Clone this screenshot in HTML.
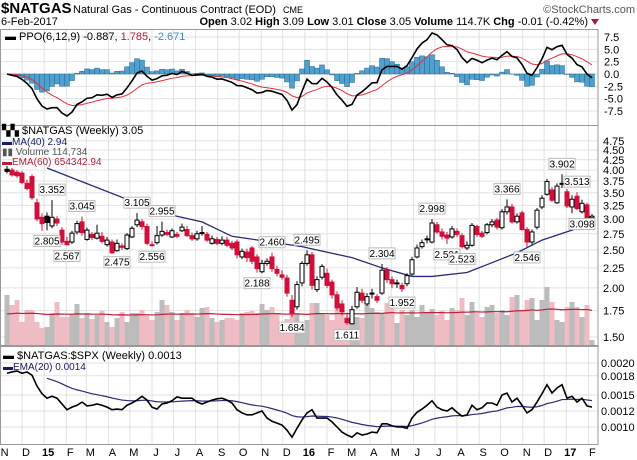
<!DOCTYPE html>
<html><head><meta charset="utf-8"><style>
body{margin:0;background:#fff;}
svg{display:block;font-family:"Liberation Sans",sans-serif;}
</style></head><body>
<svg id="chart" width="637" height="460" viewBox="0 0 637 460">
<defs>
<clipPath id="cp1"><rect x="0" y="29" width="598" height="96"/></clipPath>
<clipPath id="cp2"><rect x="0" y="125" width="598" height="220"/></clipPath>
<clipPath id="cp3"><rect x="0" y="346" width="598" height="98"/></clipPath>
</defs>
<g>
<text x="1" y="13" font-size="15" font-weight="bold">$NATGAS</text>
<text x="73" y="13" font-size="11">Natural Gas - Continuous Contract (EOD)</text>
<text x="283" y="13" font-size="9">CME</text>
<text x="635" y="13" font-size="11" fill="#555" text-anchor="end">©StockCharts.com</text>
<text x="1" y="25" font-size="11">6-Feb-2017</text>
<text x="588" y="25" font-size="11" text-anchor="end"><tspan font-weight="bold">Open</tspan> 3.02 <tspan font-weight="bold">High</tspan> 3.09 <tspan font-weight="bold">Low</tspan> 3.01 <tspan font-weight="bold">Close</tspan> 3.05 <tspan font-weight="bold">Volume</tspan> 114.7K <tspan font-weight="bold">Chg</tspan> -0.01 (-0.42%)</text>
<path d="M591 19 L599 19 L595 25 Z" fill="#a0184a"/>
</g>
<g id="grid"></g>
<g id="ppo" clip-path="url(#cp1)"></g>
<g id="price" clip-path="url(#cp2)"></g>
<g id="ratio" clip-path="url(#cp3)"></g>
<g id="axes"></g>
<g id="legends" font-size="11">
<text x="5" y="40"><tspan font-weight="bold">▬</tspan> PPO(6,12,9) -0.887, <tspan fill="#b0203a">1.785</tspan>, <tspan fill="#3b8fc0">-2.671</tspan></text>
<text x="2" y="134">▚▚ $NATGAS (Weekly) 3.05</text>
<text x="2" y="145" font-size="10" fill="#1a1a6a">▬MA(40) 2.94</text>
<text x="2" y="155" font-size="10" fill="#555">▮▮ Volume 114,734</text>
<text x="2" y="165" font-size="10" fill="#b0203a">▬EMA(60) 654342.94</text>
<text x="3" y="359"><tspan font-weight="bold">▬</tspan> $NATGAS:$SPX (Weekly) 0.0013</text>
<text x="3" y="370" font-size="10" fill="#1a1a6a">▬EMA(20) 0.0014</text>
</g>
</svg>
<script>
const opens=[4.02,4.00,3.95,3.93,3.70,3.85,3.30,3.03,3.05,2.88,3.00,2.81,2.63,2.62,2.78,2.95,2.66,2.74,2.68,2.71,2.58,2.62,2.49,2.56,2.52,2.70,2.90,2.95,2.87,2.58,2.61,2.73,2.77,2.70,2.74,2.80,2.82,2.72,2.67,2.77,2.74,2.60,2.66,2.60,2.65,2.60,2.62,2.40,2.47,2.53,2.40,2.20,2.31,2.40,2.23,2.16,2.12,1.86,1.79,2.06,2.31,2.43,1.98,2.13,2.18,2.07,1.92,1.82,1.67,1.62,1.79,1.94,1.82,1.93,1.90,1.94,2.22,2.10,2.05,2.03,2.05,2.17,2.40,2.55,2.66,2.62,2.90,2.78,2.73,2.70,2.79,2.72,2.53,2.57,2.87,2.76,2.77,2.90,2.98,2.85,3.13,3.22,2.95,3.11,2.82,2.62,2.86,3.22,3.47,3.56,3.30,3.70,3.52,3.22,3.43,3.13,3.26,3.02];
const closes=[3.97,3.89,3.87,3.72,3.59,3.40,3.00,2.92,2.94,3.03,2.93,2.62,2.58,2.76,2.92,2.77,2.81,2.69,2.76,2.63,2.65,2.46,2.60,2.54,2.73,2.84,2.98,2.87,2.60,2.57,2.72,2.79,2.74,2.80,2.71,2.86,2.72,2.67,2.75,2.76,2.65,2.67,2.60,2.65,2.57,2.53,2.43,2.48,2.39,2.34,2.24,2.31,2.34,2.24,2.18,2.13,1.94,1.72,2.04,2.31,2.43,2.03,2.10,2.27,2.03,1.92,1.78,1.74,1.63,1.76,1.95,1.86,1.90,1.94,1.86,2.22,2.10,2.05,2.06,1.99,2.15,2.36,2.53,2.61,2.67,2.93,2.78,2.71,2.68,2.83,2.74,2.55,2.57,2.89,2.74,2.71,2.90,2.95,2.86,3.13,3.22,2.95,3.05,2.82,2.62,2.78,3.16,3.39,3.74,3.35,3.64,3.69,3.24,3.37,3.19,3.29,3.02,3.05];
const highs=[4.10,4.05,4.00,3.98,3.78,3.90,3.38,3.10,3.12,3.352,3.05,2.86,2.70,2.80,2.97,3.045,2.85,2.78,2.90,2.78,2.70,2.66,2.66,2.60,2.76,2.88,3.105,3.00,2.92,2.63,2.88,2.955,2.82,2.84,2.78,2.92,2.88,2.77,2.80,2.88,2.78,2.72,2.70,2.71,2.70,2.64,2.66,2.52,2.52,2.56,2.44,2.36,2.38,2.46,2.28,2.22,2.16,1.92,2.08,2.34,2.495,2.47,2.14,2.30,2.24,2.10,1.96,1.86,1.73,1.80,2.01,1.99,1.94,1.99,1.93,2.304,2.26,2.14,2.10,2.06,2.18,2.40,2.58,2.66,2.72,2.998,2.95,2.84,2.78,2.88,2.84,2.76,2.63,2.93,2.90,2.80,2.93,3.00,3.02,3.18,3.366,3.28,3.10,3.15,2.86,2.82,3.20,3.45,3.80,3.62,3.70,3.902,3.58,3.45,3.513,3.36,3.30,3.09];
const lows=[3.92,3.85,3.82,3.68,3.55,3.36,2.96,2.80,2.805,2.84,2.88,2.58,2.567,2.59,2.74,2.72,2.64,2.65,2.66,2.60,2.55,2.44,2.475,2.50,2.50,2.68,2.86,2.82,2.57,2.556,2.58,2.70,2.71,2.68,2.68,2.78,2.70,2.64,2.64,2.72,2.62,2.58,2.57,2.57,2.54,2.50,2.38,2.37,2.33,2.30,2.188,2.18,2.28,2.20,2.14,2.10,1.90,1.684,1.76,2.02,2.28,1.98,1.95,2.10,2.00,1.88,1.75,1.70,1.611,1.612,1.77,1.83,1.80,1.88,1.83,1.92,2.06,2.00,2.00,1.952,2.02,2.15,2.38,2.52,2.60,2.60,2.75,2.66,2.591,2.67,2.70,2.523,2.50,2.55,2.70,2.68,2.74,2.86,2.82,2.82,3.08,2.92,2.92,2.80,2.546,2.58,2.82,3.18,3.44,3.32,3.28,3.60,3.20,3.10,3.16,3.098,3.00,3.01];
const volumes=[200,160,180,92,140,140,92,68,72,128,172,112,112,120,164,108,128,104,120,136,92,72,108,132,92,128,128,140,116,100,132,180,160,132,100,128,140,128,112,148,152,108,92,100,108,108,100,128,132,136,128,164,140,152,128,80,104,160,128,88,100,168,168,128,120,100,148,140,112,128,112,108,160,148,132,128,168,180,88,140,120,140,112,160,132,144,120,136,100,148,140,188,120,172,128,112,152,160,128,140,120,192,200,140,180,188,100,180,232,172,100,92,152,172,152,112,160,20];
const maIdx=[8,25,33,39,45,52,59,62,69,75,81,85,92,97,102,107,113,117];
const maVals=[4.05,3.33,3.07,2.95,2.71,2.63,2.55,2.50,2.39,2.25,2.14,2.14,2.19,2.32,2.46,2.65,2.81,2.92];
const ratioE4=[18.4,18.6,18.75,18.4,18.6,18.1,16.4,15.2,14.5,14.8,14.5,13.6,12.7,13.1,13.4,13.9,13.3,13.4,13.6,13.4,13.1,12.7,12.8,12.7,13.4,13.75,14.2,14.8,14.2,13.1,12.8,13.6,13.75,14.1,14.7,14.5,14.5,14.5,13.9,13.6,13.9,14.2,14.4,14.5,14.2,13.75,12.7,12.2,11.9,11.9,12.2,12.5,11.4,10.9,10.6,10.3,9.5,8.4,9.8,11.1,12.2,12.7,11.4,11.4,11.4,10.8,10.0,9.2,8.75,8.4,9.1,8.75,8.9,9.2,9.1,10.5,10.5,10.2,10.0,10.0,9.8,11.4,12.3,12.8,13.4,14.1,13.1,12.7,12.5,13.0,12.3,11.7,11.9,13.4,12.7,13.0,13.75,13.75,13.4,15.0,15.3,13.9,14.5,13.4,12.2,12.7,13.9,15.2,16.6,15.3,16.1,16.6,14.5,14.8,13.9,14.5,13.3,13.1];
const annIdx=[9,8,12,15,22,26,29,31,53,50,60,57,68,75,79,85,88,91,100,104,111,114,115];
const annHigh=[1,0,0,1,0,1,0,1,1,0,1,0,0,1,0,1,0,0,1,0,1,1,0];
const priceTicks=[4.75,4.50,4.25,4.00,3.75,3.50,3.25,3.00,2.75,2.50,2.25,2.00,1.75,1.50];
const ppoTicks=[7.5,5.0,2.5,0.0,-2.5,-5.0,-7.5];
const ratioTicks=[0.0020,0.0018,0.0015,0.00125,0.0010];
const ratioTickLabels=['0.0020','0.0018','0.0015','0.0012','0.0010'];
const monthNames=['J','F','M','A','M','J','J','A','S','O','N','D'];

const NS='http://www.w3.org/2000/svg';
const X0=7,STEP=5,RIGHT=598;
const xi=i=>X0+STEP*i;
const yP=p=>219-170*Math.log(p/3);
const yV=v=>345-v*0.25;
const yPPO=v=>74-4.93*v;
const yR=v=>427-64000*(v-0.001);
function mk(tag,attrs,parent){const e=document.createElementNS(NS,tag);for(const k in attrs)e.setAttribute(k,attrs[k]);parent.appendChild(e);return e;}
const grid=document.getElementById('grid'),gP=document.getElementById('ppo'),gC=document.getElementById('price'),gR=document.getElementById('ratio'),gA=document.getElementById('axes');

const base=Date.UTC(2014,10,10);
for(let y=2014,m=10;y<2017||(y===2017&&m<=1);){
  const d=(Date.UTC(y,m,1)-base)/86400000;const x=X0+STEP*d/7;
  if(x>=0&&x<RIGHT){
    const ln=mk('line',{x1:x,x2:x,y1:29,y2:444,stroke:'#e2e2e2','stroke-width':1},grid);
    
    
    const t=mk('text',{x:x+4,y:456,'font-size':11,'text-anchor':'middle'},gA);
    t.textContent=m===0?String(y).slice(2):monthNames[m];
    if(m===0)t.setAttribute('font-weight','bold');
    
    
  }
  m++;if(m>11){m=0;y++;}
}
priceTicks.forEach(v=>{const y=yP(v);
  const l=mk('line',{x1:0,x2:RIGHT,y1:y,y2:y,stroke:'#e2e2e2'},grid);
  
  
  const t=mk('text',{x:603,y:y+4,'font-size':11},gA);t.textContent=v.toFixed(2);
  
  });
ppoTicks.forEach(v=>{const y=yPPO(v);
  const l=mk('line',{x1:0,x2:RIGHT,y1:y,y2:y,stroke:'#e2e2e2'},grid);
  
  
  const t=mk('text',{x:604,y:y+4,'font-size':11},gA);t.textContent=v.toFixed(1);
  
  });
ratioTicks.forEach((v,k)=>{const y=yR(v);
  const l=mk('line',{x1:0,x2:RIGHT,y1:y,y2:y,stroke:'#e2e2e2'},grid);
  
  
  const t=mk('text',{x:601,y:y+4,'font-size':11},gA);t.textContent=ratioTickLabels[k];
  
  });
[[29,125],[125,345],[346,444]].forEach(([a,b])=>{
  const r=mk('rect',{x:0.5,y:a+0.5,width:RIGHT-0.5,height:b-a,fill:'none',stroke:'#999'},gA);
  
  });

const ema=(arr,n,seed)=>{const a=2/(n+1);const o=[];arr.forEach((v,i)=>o.push(i?o[i-1]+a*(v-o[i-1]):(seed===undefined?v:seed)));return o;};
const e6=ema(closes,6),e12=ema(closes,12);
const ppo=closes.map((c,i)=>(e6[i]-e12[i])/e12[i]*100);
const sig=ema(ppo,9);
ppo.forEach((v,i)=>{const h=v-sig[i];const y0=yPPO(0),y1=yPPO(h);
  const b=mk('rect',{x:xi(i)-2.5,y:Math.min(y0,y1),width:5,height:Math.abs(y1-y0),fill:'#4f9fcf',stroke:'#2d6a8e','stroke-width':0.5},gP);
  
  });
const sl=mk('polyline',{points:sig.map((v,i)=>xi(i)+','+yPPO(v)).join(' '),fill:'none',stroke:'#e0303a','stroke-width':1},gP);


const pl=mk('polyline',{points:ppo.map((v,i)=>xi(i)+','+yPPO(v)).join(' '),fill:'none',stroke:'#000','stroke-width':1.6},gP);



volumes.forEach((v,i)=>{const down=i>0&&closes[i]<closes[i-1];
  const b=mk('rect',{x:xi(i)-2.5,y:yV(v),width:5,height:345-yV(v),fill:down?'#f0bcc3':'#bcbcbc'},gC);
  
  });
const vSeed=volumes.slice(0,60).reduce((s,v)=>s+v,0)/60;
const ve=ema(volumes,60,vSeed);
const vl=mk('polyline',{points:ve.map((v,i)=>xi(i)+','+yV(v)).join(' '),fill:'none',stroke:'#c0203a','stroke-width':1.2},gC);


const ml=mk('polyline',{points:maIdx.map((k,j)=>xi(k)+','+yP(maVals[j])).join(' '),fill:'none',stroke:'#2a2a7a','stroke-width':1.3},gC);


opens.forEach((o,i)=>{const c=closes[i];const down=i>0&&c<closes[i-1];const col=down?'#d0103a':'#000';const x=xi(i);
  const w=mk('line',{x1:x,x2:x,y1:yP(highs[i]),y2:yP(lows[i]),stroke:col,'stroke-width':1},gC);
  
  
  const top=yP(Math.max(o,c)),bot=yP(Math.min(o,c));
  const b=mk('rect',{x:x-2,y:top,width:4,height:Math.max(1,bot-top),fill:c<o?col:'#fff',stroke:col,'stroke-width':1},gC);
  
  });
annIdx.forEach((i,k)=>{const hi=annHigh[k];const v=hi?highs[i]:lows[i];const x=xi(i);const y=yP(v);
  const by=hi?y-16:y+5;
  const r=mk('rect',{x:x-13,y:by,width:26,height:11,fill:'#fff',stroke:'#bbb'},gC);
  
  
  const t=mk('text',{x:x,y:by+9,'font-size':10,'text-anchor':'middle'},gC);t.textContent=v.toFixed(3);
  
  });

const ratio=ratioE4.map(v=>v/10000);
const re=ema(ratio,20);
const el=mk('polyline',{points:re.map((v,i)=>i>=8?xi(i)+','+yR(v):null).filter(Boolean).join(' '),fill:'none',stroke:'#2a2a7a','stroke-width':1.2},gR);


const rl=mk('polyline',{points:ratio.map((v,i)=>xi(i)+','+yR(v)).join(' '),fill:'none',stroke:'#000','stroke-width':1.6},gR);


</script>
</body></html>
